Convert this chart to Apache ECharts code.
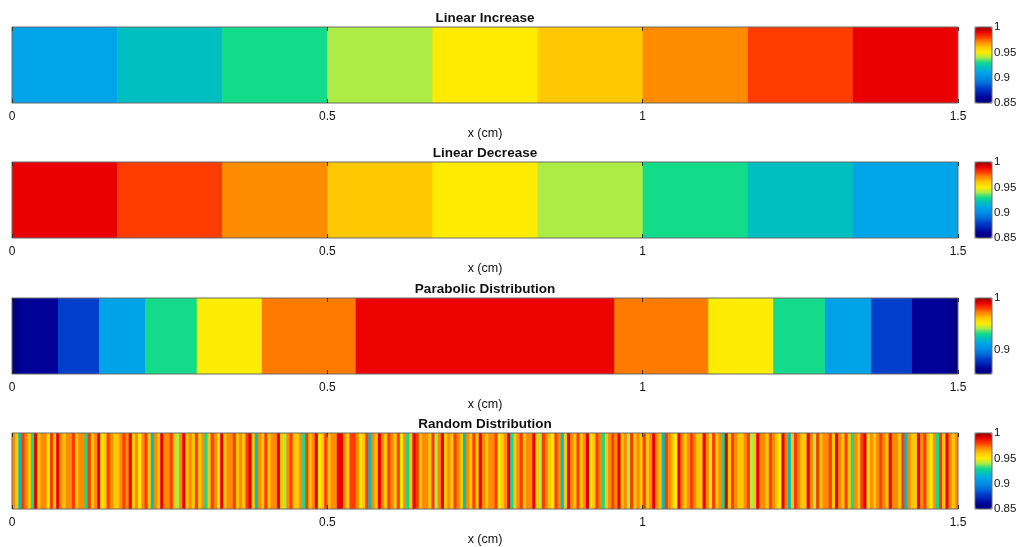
<!DOCTYPE html>
<html>
<head>
<meta charset="utf-8">
<script src="https://cdn.jsdelivr.net/npm/echarts@6/dist/echarts.min.js"></script>
<style>
html,body{margin:0;padding:0;background:#fff;}
#chart{width:1017px;height:547px;}
</style>
</head>
<body>
<div id="chart"></div>
<script>
// ---------- data ----------
const panelTitles = ['Linear Increase', 'Linear Decrease', 'Parabolic Distribution', 'Random Distribution'];
const xAxisName = 'x (cm)';
const xTickValues = [0, 0.5, 1, 1.5];

// Linear increase: 9 equal segments over 0..1.5
const linearEdges = [0, 1/6, 2/6, 3/6, 4/6, 5/6, 1, 7/6, 8/6, 1.5];
const linearIncreaseValues = [0.91, 0.92, 0.93, 0.94, 0.95, 0.96, 0.97, 0.98, 0.99];
const linearDecreaseValues = [0.99, 0.98, 0.97, 0.96, 0.95, 0.94, 0.93, 0.92, 0.91];

// Parabolic distribution (quantized levels, symmetric about x = 0.75)
const parabolicEdges = [0, 0.012, 0.073, 0.138, 0.211, 0.293, 0.396, 0.545, 0.955, 1.104, 1.207, 1.289, 1.362, 1.427, 1.488, 1.5];
const parabolicValues = [0.857, 0.864, 0.883, 0.912, 0.932, 0.951, 0.973, 0.990, 0.973, 0.951, 0.932, 0.912, 0.883, 0.864, 0.857];

// Random distribution: 300 stripes, width 0.005 cm each (values read by eye)
const randomStripeWidth = 0.005;
const randomValues = [
 .97,.96,.92,.98,.97,.96,.93,.99,.96,.97,.97,.95,.98,.96,.99,.97,.96,.97,.97,.98,
 .96,.97,.97,.93,.98,.96,.97,.99,.95,.96,.98,.97,.96,.96,.97,.98,.97,.99,.96,.97,
 .95,.97,.98,.96,.92,.97,.96,.99,.97,.97,.98,.96,.94,.97,.99,.96,.97,.96,.98,.96,
 .97,.93,.96,.98,.97,.95,.99,.96,.97,.97,.98,.96,.97,.96,.98,.99,.96,.92,.97,.96,
 .98,.96,.97,.97,.99,.96,.94,.97,.98,.96,.96,.97,.93,.98,.96,.97,.99,.95,.96,.98,
 .96,.97,.97,.99,.99,.97,.96,.98,.98,.97,.95,.96,.98,.92,.97,.96,.99,.97,.96,.98,
 .97,.96,.98,.95,.97,.93,.96,.99,.98,.96,.97,.97,.96,.98,.94,.97,.99,.96,.97,.96,
 .98,.97,.96,.92,.97,.96,.98,.96,.99,.97,.96,.97,.97,.98,.95,.96,.97,.99,.93,.96,
 .97,.98,.96,.97,.97,.99,.96,.94,.98,.97,.96,.95,.98,.97,.92,.96,.99,.97,.96,.98,
 .96,.97,.99,.95,.96,.98,.97,.93,.96,.97,.98,.97,.99,.96,.97,.94,.98,.96,.97,.96,
 .98,.96,.97,.99,.97,.96,.92,.98,.97,.96,.95,.99,.97,.96,.97,.98,.97,.96,.96,.99,
 .97,.95,.98,.96,.97,.93,.99,.96,.98,.97,.96,.96,.97,.98,.94,.96,.99,.97,.97,.96,
 .98,.97,.96,.95,.99,.97,.92,.96,.98,.97,.96,.96,.99,.97,.94,.98,.96,.97,.97,.98,
 .96,.99,.97,.96,.98,.96,.93,.97,.96,.98,.99,.95,.97,.96,.97,.98,.97,.96,.99,.97,
 .97,.96,.98,.92,.97,.96,.96,.99,.97,.98,.96,.95,.97,.93,.98,.96,.99,.97,.96,.97
];

// Colorbar ranges and tick labels
const colorRanges = [[0.85, 1], [0.85, 1], [0.854, 1], [0.85, 1]];
const colorbarTicks = [[0.85, 0.9, 0.95, 1], [0.85, 0.9, 0.95, 1], [0.9, 1], [0.85, 0.9, 0.95, 1]];

// colormap (jet-like), evenly spaced from min to max
const colormap = ['#00007a','#000096','#0020b4','#0040cc','#0070dc','#008ce4','#00a4e8','#00bfc0',
                  '#12db8a','#adeb45','#ffeb00','#ffc800','#ff8c00','#ff3c00','#eb0000','#900000'];

// ---------- build ----------
function segs(edges, vals) {
  return vals.map((v, i) => [edges[i], edges[i + 1], v]);
}
const randomEdges = randomValues.map((v, i) => i * randomStripeWidth).concat([randomValues.length * randomStripeWidth]);
const panelData = [
  segs(linearEdges, linearIncreaseValues),
  segs(linearEdges, linearDecreaseValues),
  segs(parabolicEdges, parabolicValues),
  segs(randomEdges, randomValues)
];

const plotLeft = 12, plotRight = 958, plotH = 76;
const tops = [27, 162, 298, 433];
const cbLeft = 975, cbW = 17;
const font = 'Liberation Sans, Arial, Helvetica, sans-serif';

const grid = [], xAxis = [], yAxis = [], series = [], visualMap = [], title = [];
tops.forEach((t, i) => {
  // plot grid
  grid.push({left: plotLeft, width: plotRight - plotLeft, top: t, height: plotH, outerBoundsMode: 'none',
    show: true, borderColor: '#6a6a6a', borderWidth: 1, backgroundColor: 'transparent', z: 10});
  const gi = grid.length - 1;
  xAxis.push({type: 'value', gridIndex: gi, min: 0, max: 1.5, interval: 0.5, position: 'bottom', z: 10,
    axisLine: {show: false},
    axisTick: {show: true, inside: true, length: 4, lineStyle: {color: '#333', width: 1}},
    splitLine: {show: false},
    axisLabel: {margin: 8, fontSize: 12, color: '#111', fontFamily: font, customValues: xTickValues},
    name: xAxisName, nameLocation: 'middle', nameGap: 24,
    nameTextStyle: {fontSize: 12.5, color: '#111', fontFamily: font}});
  xAxis.push({type: 'value', gridIndex: gi, min: 0, max: 1.5, interval: 0.5, position: 'top', z: 10,
    axisLine: {show: false},
    axisTick: {show: true, inside: true, length: 4, lineStyle: {color: '#333', width: 1}},
    splitLine: {show: false}, axisLabel: {show: false}});
  yAxis.push({type: 'value', gridIndex: gi, min: 0, max: 1, show: false});
  series.push({type: 'custom', xAxisIndex: xAxis.length - 2, yAxisIndex: yAxis.length - 1,
    data: panelData[i], encode: {x: [0, 1]}, clip: true,
    renderItem: function (params, api) {
      const p0 = api.coord([api.value(0), 1]);
      const p1 = api.coord([api.value(1), 0]);
      return {type: 'rect', shape: {x: p0[0], y: p0[1], width: p1[0] - p0[0] + 0.6, height: p1[1] - p0[1]},
        style: {fill: api.visual('color')}};
    }});
  visualMap.push({type: 'continuous', seriesIndex: series.length - 1, dimension: 2,
    min: colorRanges[i][0], max: colorRanges[i][1], inRange: {color: colormap},
    left: cbLeft, top: t, itemWidth: cbW, itemHeight: plotH, padding: 0,
    calculable: false, realtime: false, text: null, showLabel: false, hoverLink: false});
  title.push({text: panelTitles[i], left: (plotLeft + plotRight) / 2, top: t - 16, textAlign: 'center',
    padding: 0, textStyle: {fontSize: 13.5, fontWeight: 'bold', color: '#111', fontFamily: font}});

  // colorbar frame + labels
  grid.push({left: cbLeft, width: cbW, top: t, height: plotH, outerBoundsMode: 'none', show: true,
    borderColor: '#6a6a6a', borderWidth: 1, backgroundColor: 'transparent', z: 10});
  const ci = grid.length - 1;
  xAxis.push({type: 'value', gridIndex: ci, min: 0, max: 1, show: false});
  yAxis.push({type: 'value', gridIndex: ci, min: colorRanges[i][0], max: colorRanges[i][1], position: 'right',
    axisLine: {show: false}, axisTick: {show: false}, splitLine: {show: false},
    axisLabel: {show: true, margin: 2, fontSize: 11.5, color: '#111', fontFamily: font,
      customValues: colorbarTicks[i], formatter: v => String(+v.toFixed(2))}});
});

const chart = echarts.init(document.getElementById('chart'), null, {renderer: 'canvas'});
chart.setOption({animation: false, backgroundColor: '#fff', title, grid, xAxis, yAxis, series, visualMap});
</script>
</body>
</html>
